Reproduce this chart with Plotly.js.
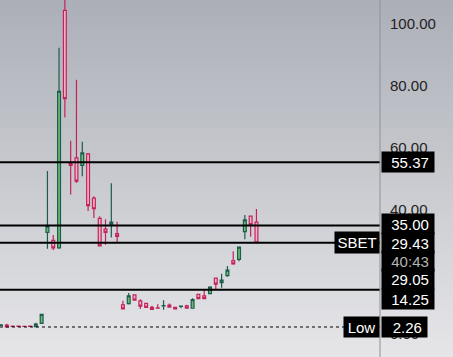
<!DOCTYPE html>
<html><head><meta charset="utf-8">
<script src="https://cdn.plot.ly/plotly-3.0.1.min.js"></script>
<style>
html,body{margin:0;padding:0;}
#chart{width:453px;height:357px;background:linear-gradient(to bottom,#acafb8 0%,#c8cacf 50%,#e6e6e9 100%);}
</style></head><body><div id="chart"></div>
<script>
// OHLC values (one candle per period)
const openP  = [2.75,2.9,2.55,2.55,2.5,2.52,2.4,3.45,32.8,30.2,27.8,104.4,55.1,56.8,54.4,58.1,43.8,37.3,33.8,35.4,32.4,9.4,9.8,12.6,10.7,9.9,8.6,8.4,9.1,9.3,8.6,8.9,9.1,8.3,12.8,12.3,13.0,18.0,16.6,18.8,23.7,24.1,33.0,38.0,36.1];
const highP  = [3.2,3.3,2.55,2.55,2.5,2.55,3.6,6.4,52.6,31.9,92.3,112,62.3,82.0,62.0,58.4,44.4,38.0,37.0,48.6,36.2,10.7,13.2,12.6,11.2,9.9,9.1,9.6,10.9,9.8,8.6,9.0,9.4,11.5,12.8,14.1,15.4,18.0,19.4,21.9,26.7,28.0,38.4,38.0,40.3];
const lowP   = [2.7,2.26,2.45,2.42,2.4,2.4,2.3,3.4,27.5,27.1,27.5,69.8,45.0,48.7,50.9,39.7,37.4,28.2,28.8,31.1,29.4,8.1,9.5,10.9,8.1,8.6,7.9,8.3,7.8,8.7,8.1,8.3,8.3,8.3,11.2,11.4,13.0,14.4,14.9,18.5,22.3,23.5,30.6,31.4,29.43];
const closeP = [2.85,2.3,2.45,2.45,2.42,2.44,3.2,6.35,34.8,27.8,78.3,75.9,54.4,49.3,58.4,41.4,40.4,28.4,32.8,36.1,31.5,8.1,12.3,10.9,9.0,8.6,7.9,8.3,9.2,8.7,8.1,9.0,8.3,11.1,11.4,11.4,15.1,16.1,17.4,20.6,22.6,28.0,36.8,35.3,29.43];
const period = openP.map((_, i) => i);

// Horizontal levels and labels
const levelLines = [55.37, 35.00, 29.43, 14.25];
const lowValue = 2.26;
const lastPrice = 29.43;
const symbol = 'SBET';
const countdown = '40:43';
const prevClose = 29.05;
const yTicks = [0, 20, 40, 60, 80, 100];

const F = 'Liberation Sans, Arial, sans-serif';
const NB = '\u00a0';

const trace = {
  type: 'candlestick', x: period,
  open: openP, high: highP, low: lowP, close: closeP,
  whiskerwidth: 0,
  increasing: {line: {color: '#1d5b4f', width: 1.2}, fillcolor: '#6dbd6c'},
  decreasing: {line: {color: '#c2245a', width: 1.2}, fillcolor: '#f3b4c8'},
  hoverinfo: 'skip'
};

const shapes = levelLines.map(v => ({
  type: 'line', xref: 'paper', x0: 0, x1: 1, yref: 'y', y0: v, y1: v,
  line: {color: '#000', width: 2}
}));
shapes.push({type: 'line', xref: 'paper', x0: 0, x1: 1, yref: 'y', y0: lowValue, y1: lowValue,
  line: {color: '#000', width: 1, dash: 'dot'}});
shapes.push({type: 'line', xref: 'paper', x0: 1, x1: 1, yref: 'paper', y0: 0, y1: 1,
  line: {color: '#8f9198', width: 1}});

function priceTag(text, y, yshift, color) {
  return {xref: 'paper', x: 1, xanchor: 'left', xshift: 1, yref: 'y', y: y, yanchor: 'middle', yshift: yshift,
    text: text + NB, showarrow: false, bgcolor: '#000', borderpad: 1, width: 50, height: 18, align: 'right',
    font: {family: F, size: 15, color: color || '#fff'}};
}

const annotations = [
  priceTag(levelLines[0].toFixed(2), levelLines[0], 0),
  priceTag(levelLines[1].toFixed(2), levelLines[1], 1.5),
  priceTag(lastPrice.toFixed(2), lastPrice, 0),
  priceTag(countdown, lastPrice, -18, '#b5b5b5'),
  priceTag(prevClose.toFixed(2), prevClose, -35),
  priceTag(levelLines[3].toFixed(2), levelLines[3], -9),
  {xref: 'paper', x: 1, xanchor: 'left', xshift: 1, yref: 'y', y: lowValue, yanchor: 'middle',
    text: lowValue.toFixed(2) + NB, showarrow: false, bgcolor: '#000', borderpad: 1, width: 43, height: 18, align: 'right',
    font: {family: F, size: 15, color: '#fff'}},
  {xref: 'paper', x: 1, xanchor: 'right', yref: 'y', y: lastPrice, yanchor: 'middle',
    text: symbol, showarrow: false, bgcolor: '#000', borderpad: 1, width: 42, height: 19, align: 'center',
    font: {family: F, size: 15, color: '#fff'}},
  {xref: 'paper', x: 1, xanchor: 'right', yref: 'y', y: lowValue, yanchor: 'middle',
    text: 'Low', showarrow: false, bgcolor: '#000', borderpad: 1, width: 33, height: 18, align: 'center',
    font: {family: F, size: 15, color: '#fff'}}
];

const layout = {
  width: 453, height: 357,
  margin: {l: 0, r: 73, t: 0, b: 0},
  paper_bgcolor: 'rgba(0,0,0,0)', plot_bgcolor: 'rgba(0,0,0,0)',
  showlegend: false,
  xaxis: {range: [-0.172, 65.28], visible: false, rangeslider: {visible: false}, fixedrange: true},
  yaxis: {side: 'right', range: [-7.42, 107.74], tickvals: yTicks, tickformat: '.2f',
    showgrid: false, zeroline: false, showline: false, ticks: '', ticklabelstandoff: 9,
    tickfont: {family: F, size: 15, color: '#222'}, fixedrange: true},
  shapes: shapes,
  annotations: annotations,
  hovermode: false
};

Plotly.newPlot('chart', [trace], layout, {staticPlot: true, displayModeBar: false});
</script></body></html>
